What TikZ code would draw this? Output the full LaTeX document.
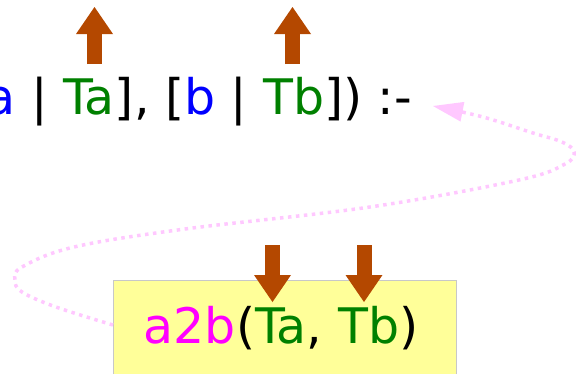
\documentclass[tikz,border=0pt]{standalone}
\usepackage{fontspec}
\setmainfont{DejaVu Sans}
\usetikzlibrary{arrows.meta}
\definecolor{vgreen}{RGB}{0,128,0}
\definecolor{vblue}{RGB}{0,0,255}
\definecolor{vmag}{RGB}{255,0,255}
\definecolor{vbrown}{RGB}{180,72,0}
\definecolor{vyellow}{RGB}{255,255,153}
\definecolor{vgray}{RGB}{200,200,200}
\definecolor{vpink}{RGB}{255,200,255}
\tikzset{
  code/.style={inner sep=0pt, font=\fontsize{49pt}{58pt}\selectfont},
  goalbox/.style={code, fill=vyellow, draw=vgray, line width=1pt, minimum width=343pt,
     text height=63pt, text depth=60pt},
  brarrow/.style={draw=vbrown, line width=15pt,
     -{Triangle[length=27pt,width=37pt,line width=0pt]}},
  loop/.style={draw=vpink, line width=3.5pt, dash pattern=on 3.5pt off 4.5pt,
     -{Triangle[length=30pt,width=20pt,line width=0pt]}}
}
\begin{document}
\begin{tikzpicture}[x=1pt,y=-1pt]
\useasboundingbox (0,0) rectangle (580,373);
\node[code, anchor=base west] (head) at (-14.8,114.5)
  {{\color{vblue}a} | {\color{vgreen}Ta}], [{\color{vblue}b} | {\color{vgreen}Tb}]) :-};
\node[goalbox, anchor=north west] (goal) at (113,280)
  {{\color{vmag}a2b}({\color{vgreen}Ta}, {\color{vgreen}Tb})\hspace*{8pt}};
% up arrows
\coordinate (u1s) at (94.5,64);
\coordinate (u1e) at (94.5,7);
\coordinate (u2s) at (292.5,64);
\coordinate (u2e) at (292.5,7);
\draw[brarrow] (u1s) -- (u1e);
\draw[brarrow] (u2s) -- (u2e);
% down arrows
\coordinate (d1s) at (272.5,245);
\coordinate (d1e) at (272.5,302);
\coordinate (d2s) at (364,245);
\coordinate (d2e) at (364,302);
\draw[brarrow] (d1s) -- (d1e);
\draw[brarrow] (d2s) -- (d2e);
% loop back
\coordinate (lstart) at ([yshift=-45pt]goal.north west);
\coordinate (lend) at (433,106);
\draw[loop] plot[smooth, tension=0.6] coordinates {
  (lstart) (56,307) (22,292) (15,280) (22,267) (74,247) (185,229) (370,207)
  (519,180) (565,164) (574,152) (562,142) (533,133) (483,117) (lend)};
\end{tikzpicture}
\end{document}
